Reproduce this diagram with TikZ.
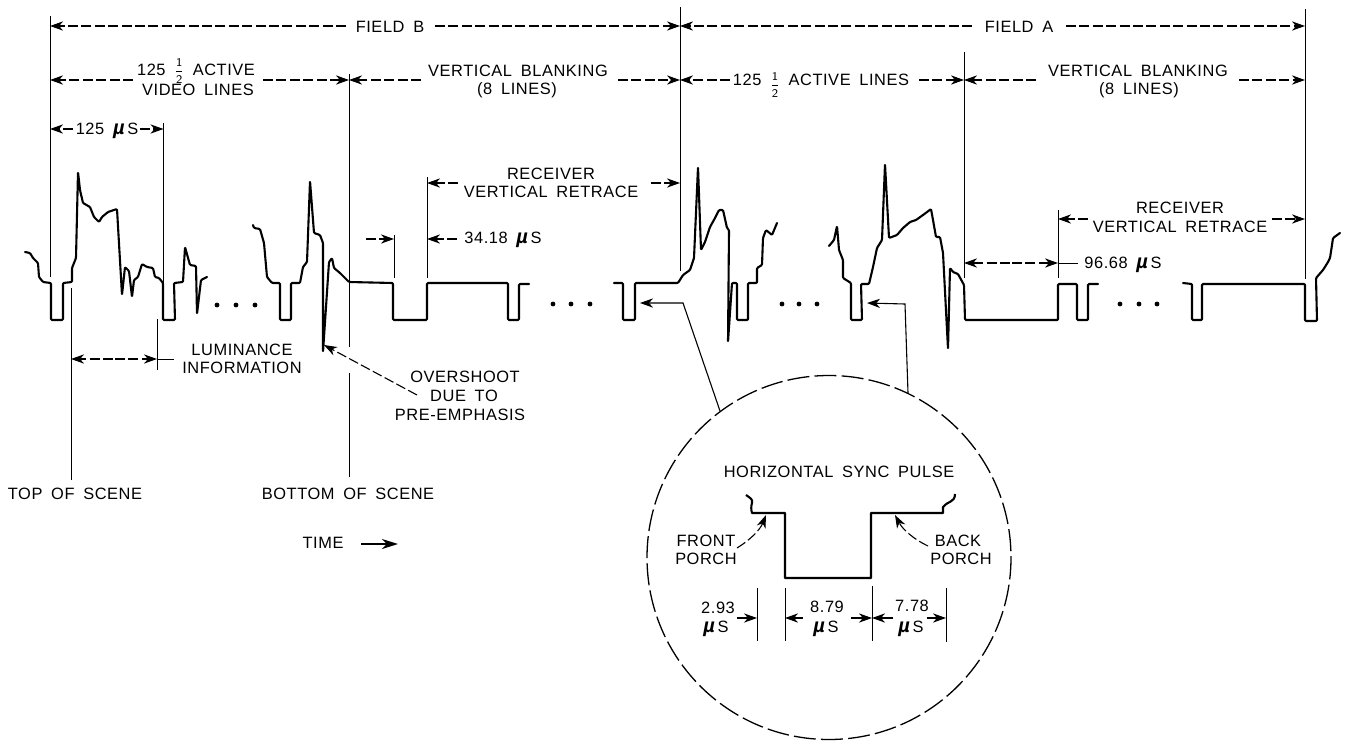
\documentclass[tikz,border=0pt]{standalone}
\usepackage{fontspec}
\setmainfont[LetterSpace=3.5,WordSpace=1.7]{Liberation Sans}
\usetikzlibrary{arrows.meta}
\newcommand\mus{\smash{\fontsize{10}{9}\selectfont\bfseries\itshape µ}\,S}
\newcommand\halffrac[1]{\smash{\raisebox{#1}{\scalebox{0.72}{$\displaystyle\frac{\mathsf{1}}{\mathsf{2}}$}}}}
\newcommand\conn[4]{\coordinate (#2a) at (#3); \coordinate (#2b) at (#4); \draw[#1] (#2a) -- (#2b);}
\tikzset{
  lbl/.style={inner sep=0pt,font=\fontsize{8.2}{9}\selectfont},
  guide/.style={line width=0.5pt},
  dim/.style={line width=0.55pt,dash pattern=on 5pt off 1.7pt},
  tipr/.style={-{Stealth[length=6.5pt,width=4.6pt,inset=2pt]}},
  solidtip/.style={line width=0.55pt,tipr},
  dimtip/.style={dim,tipr},
  trace/.style={line width=1.05pt,line join=round,line cap=round,rounded corners=0.5pt},
  dotmark/.style={circle,fill=black,inner sep=0pt,minimum size=2.4pt},
  lens/.style={line width=0.65pt,dash pattern=on 11pt off 2.6pt}
}
\begin{document}
\begin{tikzpicture}[x=0.5pt,y=-0.5pt]
\useasboundingbox (0,0) rectangle (1348,744);
% guides
\conn{guide}{ga}{50,16}{50,277}
\conn{guide}{gb}{349,74}{349,347}
\conn{guide}{gc}{349,373}{349,477}
\conn{guide}{gd}{680,7}{680,271}
\conn{guide}{ge}{964,52}{964,278}
\conn{guide}{gf}{1305,9}{1305,279}
\conn{guide}{gg}{163.5,123}{163.5,283}
\conn{guide}{gh}{71,288}{71,480}
\conn{guide}{gi}{157,319}{157,370}
\conn{guide}{gj}{394,235}{394,278}
\conn{guide}{gk}{427,177}{427,278}
\conn{guide}{gl}{1058,210}{1058,278}
% labels
\node[lbl] (fieldb) at (390,27) {FIELD B};
\node[lbl] (fielda) at (1019,27) {FIELD A};
\node[lbl] (act1a) at (196,70) {125 \halffrac{0.6pt}\ ACTIVE};
\node[lbl] (act1b) at (198,90) {VIDEO LINES};
\node[lbl] (vb1a) at (518,71) {VERTICAL BLANKING};
\node[lbl] (vb1b) at (517,90) {(8 LINES)};
\node[lbl] (act2) at (821,80) {125 \halffrac{-1.4pt}\ ACTIVE LINES};
\node[lbl] (vb2a) at (1138,71) {VERTICAL BLANKING};
\node[lbl] (vb2b) at (1139,90) {(8 LINES)};
\node[lbl] (t125) at (107,129) {125 \mus};
\node[lbl] (rv1a) at (551,174) {RECEIVER};
\node[lbl] (rv1b) at (551,192) {VERTICAL RETRACE};
\node[lbl] (t3418) at (503,238) {34.18 \mus};
\node[lbl] (rv2a) at (1180,208) {RECEIVER};
\node[lbl] (rv2b) at (1180,227) {VERTICAL RETRACE};
\node[lbl] (t9668) at (1123,263) {96.68 \mus};
\node[lbl] (lum1) at (242,350) {LUMINANCE};
\node[lbl] (lum2) at (242,368) {INFORMATION};
\node[lbl] (ov1) at (465,377) {OVERSHOOT};
\node[lbl] (ov2) at (464,396) {DUE TO};
\node[lbl] (ov3) at (460,415) {PRE-EMPHASIS};
\node[lbl] (top) at (75,494) {TOP OF SCENE};
\node[lbl] (bot) at (348,494) {BOTTOM OF SCENE};
\node[lbl] (time) at (323,543) {TIME};
\node[lbl] (hsp) at (839,472) {HORIZONTAL SYNC PULSE};
\node[lbl] (fp1) at (706,541) {FRONT};
\node[lbl] (fp2) at (706,559) {PORCH};
\node[lbl] (bp1) at (958,541) {BACK};
\node[lbl] (bp2) at (961,559) {PORCH};
\node[lbl] (d1a) at (718,608) {2.93};
\node[lbl] (d1b) at (716,627) {\mus};
\node[lbl] (d2a) at (827,607) {8.79};
\node[lbl] (d2b) at (826,627) {\mus};
\node[lbl] (d3a) at (912,606) {7.78};
\node[lbl] (d3b) at (911,627) {\mus};
% dimension connectors
\conn{dimtip}{aa}{346,26}{50,26}
\conn{dimtip}{ab}{435,26}{680,26}
\conn{dimtip}{ac}{972,26}{680,26}
\conn{dimtip}{ad}{1066,26}{1305,26}
\conn{dimtip}{ae}{133,80}{50,80}
\conn{dimtip}{af}{263,80}{349,80}
\conn{dimtip}{ag}{421,80}{349,80}
\conn{dimtip}{ah}{618,80}{680,80}
\conn{dimtip}{ai}{730,80}{680,80}
\conn{dimtip}{aj}{919,80}{964,80}
\conn{dimtip}{ak}{1036,80}{964,80}
\conn{dimtip}{al}{1239,80}{1305,80}
\conn{dimtip}{am}{73,129}{50,129}
\conn{dimtip}{an}{140,129}{163.5,129}
\conn{dimtip}{ao}{458,183}{427,183}
\conn{dimtip}{ap}{651,183}{680,183}
\conn{dimtip}{aq}{366,239}{394,239}
\conn{dimtip}{ar}{457,239}{427,239}
\conn{dimtip}{as}{1088,219}{1058,219}
\conn{dimtip}{at}{1272,219}{1305,219}
\conn{dimtip}{au}{1010,263}{964,263}
\conn{dimtip}{av}{1012,263}{1058,263}
\conn{guide}{aw}{1058,263}{1078,263}
\conn{dimtip}{ax}{113,359}{71,359}
\conn{dimtip}{ay}{115,359}{157,359}
\conn{guide}{az}{157,359}{174,359}
\conn{dimtip}{ba}{417,395}{324,345}
\coordinate (tma) at (361,544); \coordinate (tmb) at (398,544);
\draw[line width=1pt,-{Stealth[length=8pt,width=5pt,inset=2.4pt]}] (tma) -- (tmb);
% waveform
\draw[trace] (25,252) -- (30,253) -- (33,258) -- (38,263) -- (39,277) -- (43,282) -- (51,283) -- (51,320) -- (63,320) -- (63,283) -- (72,282) -- (72,268) -- (76,258) -- (78,172) -- (80,190) -- (83,203) -- (90,207) -- (94,217) -- (99,222) -- (102,217) -- (108,212) -- (117,209) -- (122,295) -- (125,267) -- (129,271) -- (132,297) -- (134,280) -- (138,277) -- (142,264) -- (147,267) -- (153,268) -- (155,277) -- (159,278) -- (163,283) -- (163,320) -- (175,320) -- (174,283) -- (183,282) -- (185,247) -- (190,265) -- (196,266) -- (197,314) -- (201,280) -- (207,277);
\draw[trace] (253,225) -- (254,228) -- (260,229) -- (264,243) -- (267,277) -- (272,283) -- (280,283) -- (280,320) -- (291,320) -- (291,283) -- (300,283) -- (303,267) -- (307,262) -- (310,181) -- (314,233) -- (320,235) -- (323,243) -- (323,352) -- (329,262) -- (332,258) -- (334,268) -- (340,273) -- (349,282) -- (393,283) -- (393,320) -- (427,320) -- (427,283) -- (508,283) -- (508,320) -- (519,320) -- (519,284) -- (529,284);
\draw[trace] (614,283) -- (623,283) -- (623,320) -- (635,320) -- (635,283) -- (678,283) -- (683,275) -- (690,270) -- (694,258) -- (698,167) -- (701,250) -- (705,242) -- (710,227) -- (715,218) -- (719,210) -- (723,210) -- (727,228) -- (729,230) -- (728,342) -- (732,283) -- (737,283) -- (737,320) -- (748,320) -- (748,283) -- (757,283) -- (757,268) -- (762,265) -- (763,238) -- (766,230) -- (772,235) -- (777,223);
\draw[trace] (829,246) -- (834,240) -- (837,226) -- (839,250) -- (843,260) -- (843,278) -- (851,283) -- (851,320) -- (862,320) -- (861,284) -- (869,284) -- (873,267) -- (877,248) -- (882,240) -- (885,164) -- (889,238) -- (897,235) -- (903,228) -- (910,222) -- (916,220) -- (923,215) -- (931,209) -- (933,220) -- (936,237) -- (940,237) -- (943,253) -- (948,349) -- (950,268) -- (953,272) -- (958,274) -- (964,285) -- (965,320) -- (1058,320) -- (1058,284) -- (1077,284) -- (1077,320) -- (1088,320) -- (1088,284) -- (1098,284);
\draw[trace] (1183,283) -- (1192,284) -- (1192,320) -- (1202,320) -- (1202,284) -- (1305,284) -- (1305,321) -- (1317,321) -- (1316,278) -- (1323,270) -- (1328,262) -- (1330,258) -- (1332,245) -- (1333,238) -- (1340,233);
% dots
\foreach \n/\x in {a/217,b/236,c/255}{\node[dotmark] (da\n) at (\x,305) {};}
\foreach \n/\x in {a/553,b/571,c/590}{\node[dotmark] (db\n) at (\x,304) {};}
\foreach \n/\x in {a/782,b/799,c/817}{\node[dotmark] (dc\n) at (\x,304) {};}
\foreach \n/\x in {a/1120,b/1139,c/1157}{\node[dotmark] (dd\n) at (\x,304) {};}
% inset
\node[circle,minimum size=182pt,inner sep=0pt] (circ) at (829,557.5) {};
\draw[lens] (829,557.5) circle[radius=182];
\coordinate (k1) at (683,303); \coordinate (k1t) at (640,303); \coordinate (k1e) at (720,411);
\draw[solidtip] (k1e) -- (k1) -- (k1t);
\coordinate (k2) at (905,304); \coordinate (k2t) at (867,303); \coordinate (k2e) at (908,393);
\draw[solidtip] (k2e) -- (k2) -- (k2t);
\draw[line width=1.05pt,line join=round] (746,495) .. controls (750,498) and (753,499) .. (752,503) .. controls (751,506) and (751,510) .. (752,513) -- (785,513) -- (785,578) -- (871,578) -- (871,513) -- (943,513) -- (943,507) .. controls (947,501) and (955,503) .. (955,494);
\coordinate (fpa) at (737,548); \coordinate (fpb) at (766,515);
\draw[dimtip] (fpa) .. controls (750,540) and (760,530) .. (fpb);
\coordinate (bpa) at (928,546); \coordinate (bpb) at (895,515);
\draw[dimtip] (bpa) .. controls (915,540) and (903,530) .. (bpb);
\conn{guide}{ha}{757,588}{757,641}
\conn{guide}{hb}{785,588}{785,641}
\conn{guide}{hc}{872,586}{872,641}
\conn{guide}{hd}{946,588}{946,642}
\conn{solidtip}{ia}{737,618}{757,618}
\conn{solidtip}{ib}{803,618}{785,618}
\conn{solidtip}{ic}{851,618}{872,618}
\conn{solidtip}{id}{893,618}{872,618}
\conn{solidtip}{ie}{927,618}{946,618}
\end{tikzpicture}
\end{document}
